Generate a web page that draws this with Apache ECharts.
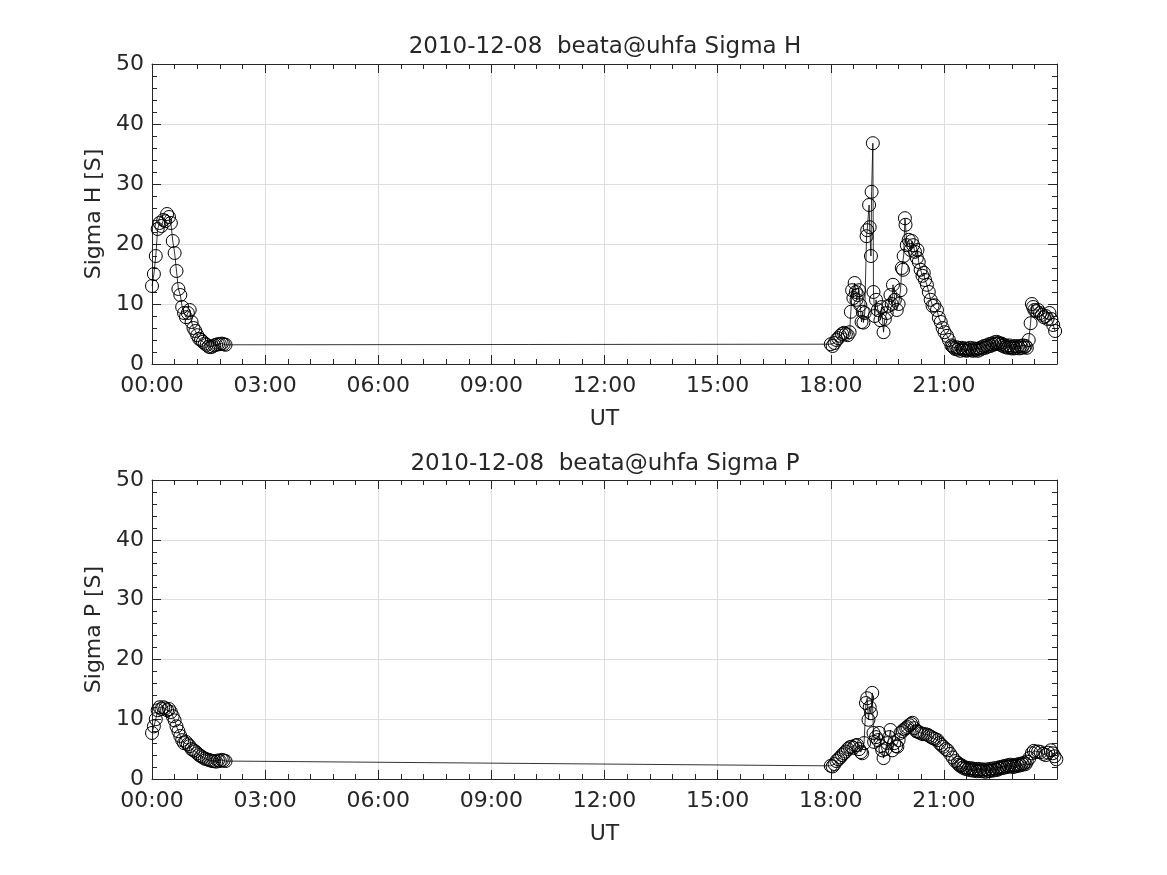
<!DOCTYPE html>
<html>
<head>
<meta charset="utf-8">
<script src="https://cdn.jsdelivr.net/npm/echarts@6/dist/echarts.min.js"></script>
<style>html,body{margin:0;padding:0;background:#fff;}#c{width:1167px;height:875px;}</style>
</head>
<body>
<div id="c"></div>
<script>
// minutes of day (UT)
var timesH = [0,3,6,9,12,15,18,21,24,27,30,33,36,39,42,45,48,51,54,57,60,63,66,69,72,75,78,81,84,87,90,93,96,99,102,105,108,111,114,117,
1080,1083,1086,1089,1092,1095,1098,1101,1104,1107,1110,1112,1114,1116,1118,1120,1121,1123,1125,1127,1129,1131,1132,1134,1137,1138,1141,1142,1144,1145,1147,1148,1150,1152,1155,1159,1161,1164,1166,1169,1172,1175,1177,1179,1182,1185,1188,1191,1193,1195,1196,1198,1199,1201,1204,1207,1209,1211,1214,1217,1218,1220,1223,1226,1228,1230,1233,1236,1239,1242,1245,1249,1252,1255,1258,1261,1265,1268,
1272,1274,1276,1278,1280,1282,1284,1286,1288,1290,1292,1294,1296,1298,1300,1302,1304,1306,1308,1310,1312,1314,1316,1318,1320,1322,1324,1326,1328,1330,1332,1334,1336,1338,1340,1342,1344,1346,1348,1350,1352,1354,1356,1358,1360,1362,1364,1366,1368,1370,1372,1374,1376,1378,1380,1382,1384,1386,1388,1390,1392,
1395,1398,1400,1402,1404,1407,1410,1413,1416,1419,1422,1425,1428,1431,1434,1437];
var sigmaH = [13.0,15.0,18.0,22.5,23.5,23.0,24.0,23.8,25.0,24.5,23.5,20.5,18.5,15.5,12.5,11.5,9.5,8.5,7.8,8.5,9.0,7.0,6.0,5.5,4.8,4.2,4.0,3.7,3.4,3.2,2.9,2.8,2.9,3.1,3.2,3.3,3.3,3.4,3.3,3.2,
3.3,3.0,3.5,4.0,4.3,4.7,5.0,5.2,5.0,4.8,5.3,8.7,12.3,11.0,13.5,12.0,10.7,11.5,12.3,9.8,7.0,8.7,6.9,8.5,21.3,22.3,26.5,22.8,18.0,28.7,36.8,12.0,8.0,10.7,9.0,7.3,9.5,5.3,7.5,8.5,9.7,11.5,10.0,13.2,10.7,9.0,10.0,12.3,16.0,15.7,18.0,24.3,23.2,19.8,20.7,19.0,20.5,19.8,18.7,17.7,19.0,17.0,15.7,14.7,15.2,14.0,13.2,12.0,10.7,9.7,9.8,9.0,7.7,7.0,6.0,5.3,4.7,4.0,
3.1,2.9,2.7,2.5,2.8,2.4,2.6,2.2,2.7,2.5,2.3,2.6,2.2,2.5,2.3,2.7,2.4,2.2,2.6,2.3,2.5,2.2,2.6,2.4,2.8,2.6,3.0,2.7,3.1,2.9,3.3,3.0,3.4,3.2,3.6,3.3,3.7,3.4,3.5,3.2,3.4,3.0,3.2,2.8,3.0,2.7,3.1,2.8,2.6,2.9,2.6,3.0,2.7,2.9,2.6,3.0,2.7,3.1,2.8,3.0,2.7,
4.0,6.8,10.0,9.5,9.0,8.8,9.0,8.5,8.2,7.8,8.0,7.5,8.5,7.5,6.5,5.5];

var timesP = [0,3,6,9,12,15,18,21,24,27,30,33,36,39,42,45,48,51,54,57,60,63,66,69,72,75,78,81,84,87,90,93,96,99,102,105,108,111,114,117,
1080,1083,1086,1089,1092,1095,1098,1101,1104,1107,1110,1113,1116,1119,1122,1125,1128,1130,1133,1136,1138,1140,1142,1144,1146,1148,1149,1152,1155,1157,1160,1162,1164,1167,1170,1173,1175,1178,1181,1184,1186,1188,1191,1194,1197,1200,1202,1205,1208,1210,1213,1216,1218,1221,1224,1227,1230,1234,1237,1240,1243,1246,1250,1253,1256,1259,1263,1266,1270,1274,1278,
1282,1284,1286,1288,1290,1292,1294,1296,1298,1300,1302,1304,1306,1308,1310,1312,1314,1316,1318,1320,1322,1324,1326,1328,1330,1332,1334,1336,1338,1340,1342,1344,1346,1348,1350,1352,1354,1356,1358,1360,1362,1364,1366,1368,1370,1372,1374,1376,1378,1380,1382,1384,1386,1388,1390,1392,
1396,1400,1403,1406,1410,1414,1418,1422,1426,1430,1433,1436,1439];
var sigmaP = [7.7,8.8,10.0,11.5,12.0,11.7,12.0,11.8,11.5,11.7,11.2,10.5,9.8,8.8,8.0,7.2,6.5,6.0,6.2,5.8,5.5,5.0,4.8,4.6,4.3,4.0,3.8,3.6,3.4,3.3,3.2,3.1,3.0,3.0,2.9,3.1,3.0,3.2,3.1,3.0,
2.2,2.1,2.5,3.0,3.3,3.6,4.0,4.3,4.6,5.0,5.3,5.4,5.2,5.6,5.7,5.0,4.5,4.3,6.0,12.7,13.5,9.9,12.0,11.0,14.4,7.7,6.2,7.0,6.5,7.7,5.5,4.8,3.5,5.0,6.0,7.0,8.2,4.8,6.0,5.5,5.4,6.5,7.7,8.0,8.3,8.5,8.7,9.0,9.2,9.4,8.5,8.0,7.9,7.8,7.6,7.5,7.5,7.4,7.2,7.0,6.8,6.7,6.5,6.0,5.7,5.4,5.0,4.8,4.2,3.6,3.0,
2.7,2.4,2.2,2.3,1.9,2.0,1.7,1.9,1.6,1.8,1.5,1.8,1.4,1.7,1.5,1.3,1.7,1.4,1.6,1.3,1.6,1.4,1.2,1.6,1.4,1.3,1.7,1.5,1.4,1.8,1.6,1.5,1.9,1.7,2.0,1.8,2.1,1.9,2.2,2.0,2.3,2.1,2.4,2.2,2.0,2.3,2.1,2.4,2.2,2.5,2.3,2.6,2.4,2.7,2.5,2.9,
3.5,4.3,4.7,4.5,4.6,4.5,4.2,4.0,4.4,4.8,4.3,3.8,3.3];

var titles = ['2010-12-08  beata@uhfa Sigma H', '2010-12-08  beata@uhfa Sigma P'];
var yNames = ['Sigma H [S]', 'Sigma P [S]'];
var xName = 'UT';

function pairs(t, v) { var out = []; for (var i = 0; i < t.length; i++) out.push([t[i], v[i]]); return out; }
function fmtX(val) { if (val >= 1440) return ''; var h = Math.round(val / 60); return (h < 10 ? '0' : '') + h + ':00'; }

var TXT = '#262626';
var FONT = 'DejaVu Sans';
var grids = [
  {left: 152, top: 64, width: 905, height: 300},
  {left: 152, top: 480, width: 905, height: 299}
];
var xAxes = [], yAxes = [], series = [];
function mkX(gi, pos, main) {
  return {
    type: 'value', gridIndex: gi, position: pos, min: 0, max: 1440, interval: 180,
    name: main ? xName : '', nameLocation: 'middle', nameGap: 44,
    nameTextStyle: {color: TXT, fontSize: 22, fontFamily: FONT},
    axisLine: {show: true, onZero: false, lineStyle: {color: TXT, width: 1}},
    axisTick: {show: true, inside: true, length: 9, lineStyle: {color: TXT}},
    minorTick: {show: true, splitNumber: 5, length: 5, lineStyle: {color: TXT}},
    axisLabel: {show: main, color: TXT, fontSize: 22, fontFamily: FONT, margin: 11, formatter: fmtX, showMaxLabel: false},
    splitLine: {show: main, lineStyle: {color: '#dedede', width: 1}},
    minorSplitLine: {show: false}
  };
}
function mkY(gi, pos, main) {
  return {
    type: 'value', gridIndex: gi, position: pos, min: 0, max: 50, interval: 10,
    name: main ? yNames[gi] : '', nameLocation: 'middle', nameGap: 41,
    nameTextStyle: {color: TXT, fontSize: 22, fontFamily: FONT},
    axisLine: {show: true, onZero: false, lineStyle: {color: TXT, width: 1}},
    axisTick: {show: true, inside: true, length: 9, lineStyle: {color: TXT}},
    minorTick: {show: true, splitNumber: 5, length: 5, lineStyle: {color: TXT}},
    axisLabel: {show: main, color: TXT, fontSize: 22, fontFamily: FONT, margin: 8},
    splitLine: {show: main, lineStyle: {color: '#dedede', width: 1}}
  };
}
for (var g = 0; g < 2; g++) {
  xAxes.push(mkX(g, 'bottom', true));
  xAxes.push(mkX(g, 'top', false));
  yAxes.push(mkY(g, 'left', true));
  yAxes.push(mkY(g, 'right', false));
}
var dataSets = [pairs(timesH, sigmaH), pairs(timesP, sigmaP)];
for (var s = 0; s < 2; s++) {
  series.push({
    type: 'line', xAxisIndex: s * 2, yAxisIndex: s * 2, data: dataSets[s],
    symbol: 'circle', symbolSize: 13, showAllSymbol: true, animation: false,
    lineStyle: {color: '#000', width: 0.8},
    itemStyle: {color: 'rgba(0,0,0,0)', borderColor: '#000', borderWidth: 1},
    emphasis: {disabled: true}
  });
}
var chart = echarts.init(document.getElementById('c'), null, {renderer: 'canvas'});
chart.setOption({
  backgroundColor: '#fff',
  animation: false,
  title: [
    {text: titles[0], left: 600, top: 31, textAlign: 'center', textStyle: {color: TXT, fontSize: 23, fontWeight: 'normal', fontFamily: FONT}},
    {text: titles[1], left: 600, top: 448, textAlign: 'center', textStyle: {color: TXT, fontSize: 23, fontWeight: 'normal', fontFamily: FONT}}
  ],
  grid: grids,
  xAxis: xAxes,
  yAxis: yAxes,
  series: series
});
</script>
</body>
</html>
